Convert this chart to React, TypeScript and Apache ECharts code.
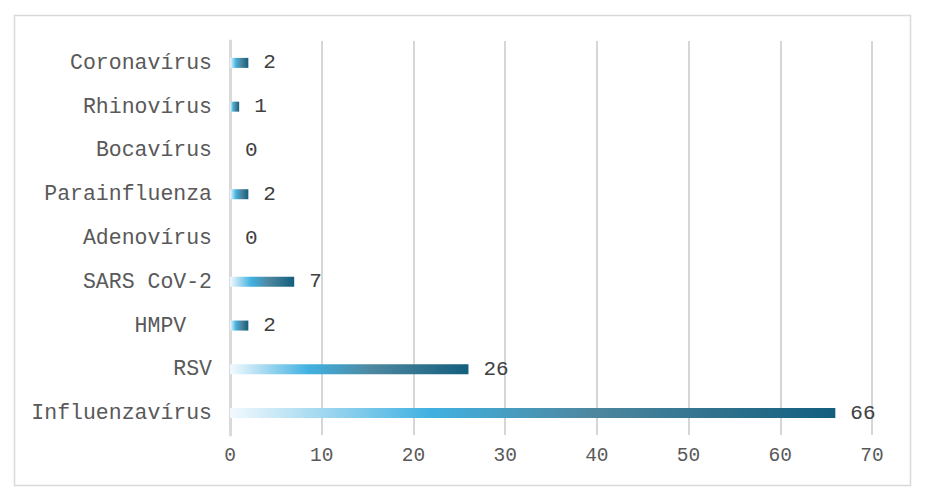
import React, { useEffect, useRef } from "react";
import * as echarts from "echarts";

const categories = [
  "Influenzavírus",
  "RSV",
  "HMPV  ",
  "SARS CoV-2",
  "Adenovírus",
  "Parainfluenza",
  "Bocavírus",
  "Rhinovírus",
  "Coronavírus",
];
const values = [66, 26, 2, 7, 0, 2, 0, 1, 2];
const xTicks = { min: 0, max: 70, interval: 10 };

export default function App() {
  const ref = useRef<HTMLDivElement>(null);
  useEffect(() => {
    document.body.style.margin = "0";
    const chart = echarts.init(ref.current!, null, { renderer: "svg" });
    const font = "'Liberation Mono', 'Courier New', monospace";
    chart.setOption({
      animation: false,
      backgroundColor: "#ffffff",
      graphic: [
        {
          type: "rect",
          shape: { x: 14.5, y: 15.5, width: 896, height: 470 },
          style: { fill: "none", stroke: "#d9d9d9", lineWidth: 1.5 },
          silent: true,
        },
      ],
      grid: { left: 230, right: 55, top: 41, bottom: 65, containLabel: false },
      xAxis: {
        type: "value",
        min: xTicks.min,
        max: xTicks.max,
        interval: xTicks.interval,
        axisLine: { show: false },
        axisTick: { show: false },
        splitLine: { show: true, lineStyle: { color: "#c8c8c8", width: 1.5 } },
        axisLabel: { color: "#595959", fontFamily: font, fontSize: 19.5, margin: 11 },
      },
      yAxis: {
        type: "category",
        data: categories,
        axisLine: { show: true, lineStyle: { color: "#d9d9d9", width: 3 } },
        axisTick: { show: false },
        axisLabel: { color: "#595959", fontFamily: font, fontSize: 21.5, margin: 18 },
      },
      series: [
        {
          type: "bar",
          data: values,
          barWidth: 10,
          itemStyle: {
            color: new echarts.graphic.LinearGradient(0, 0, 1, 0, [
              { offset: 0, color: "#f2f9fd" },
              { offset: 0.33, color: "#41b1e1" },
              { offset: 0.6, color: "#4d879f" },
              { offset: 1, color: "#135e7e" },
            ]),
          },
          label: {
            show: true,
            position: "right",
            distance: 15,
            color: "#404040",
            fontFamily: font,
            fontSize: 21,
          },
        },
      ],
    });
    return () => chart.dispose();
  }, []);
  return <div ref={ref} style={{ width: 927, height: 500 }} />;
}
